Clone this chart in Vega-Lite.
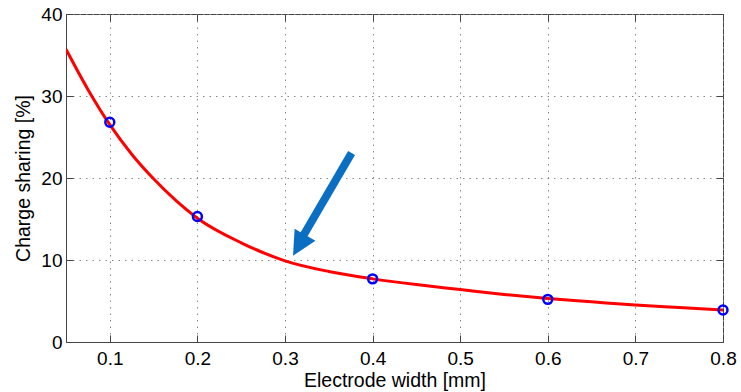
{
  "$schema": "https://vega.github.io/schema/vega-lite/v6.json",
  "autosize": {"type": "none"},
  "width": 657,
  "height": 328,
  "padding": {"left": 66, "top": 14, "right": 18, "bottom": 50},
  "background": "white",
  "config": {
    "font": "Liberation Sans",
    "view": {"stroke": "#444444", "strokeWidth": 1},
    "axis": {
      "labelFont": "Liberation Sans",
      "titleFont": "Liberation Sans",
      "labelFontSize": 19,
      "titleFontSize": 19.5,
      "labelColor": "#000000",
      "titleColor": "#000000",
      "titleFontWeight": "normal",
      "labelFlush": false,
      "labelOverlap": false,
      "domainColor": "#444444",
      "tickColor": "#444444",
      "gridColor": "#888888",
      "gridDash": [1.5, 5],
      "gridWidth": 1
    }
  },
  "datasets": {
    "curve": [
      {"w": 0.05, "cs": 35.7},
      {"w": 0.075, "cs": 30.8},
      {"w": 0.1, "cs": 26.5},
      {"w": 0.125, "cs": 22.9},
      {"w": 0.15, "cs": 19.9},
      {"w": 0.175, "cs": 17.3},
      {"w": 0.2, "cs": 15.1},
      {"w": 0.25, "cs": 12.1},
      {"w": 0.3, "cs": 9.9},
      {"w": 0.35, "cs": 8.6},
      {"w": 0.4, "cs": 7.7},
      {"w": 0.45, "cs": 7.0},
      {"w": 0.5, "cs": 6.4},
      {"w": 0.55, "cs": 5.8},
      {"w": 0.6, "cs": 5.3},
      {"w": 0.65, "cs": 4.9},
      {"w": 0.7, "cs": 4.5},
      {"w": 0.75, "cs": 4.2},
      {"w": 0.8, "cs": 3.9}
    ],
    "points": [
      {"w": 0.1, "cs": 26.8},
      {"w": 0.2, "cs": 15.3},
      {"w": 0.4, "cs": 7.7},
      {"w": 0.6, "cs": 5.2},
      {"w": 0.8, "cs": 3.9}
    ],
    "shaft": [{"x1": 0.376, "y1": 23.05, "x2": 0.32, "y2": 12.8}],
    "head": [{"w": 0.316, "cs": 11.8}]
  },
  "layer": [
    {
      "data": {"name": "curve"},
      "mark": {"type": "line", "color": "#ff0000", "strokeWidth": 3, "interpolate": "monotone", "clip": true},
      "encoding": {
        "x": {
          "field": "w", "type": "quantitative",
          "scale": {"domain": [0.05, 0.8], "nice": false, "zero": false},
          "axis": {
            "orient": "bottom",
            "title": "Electrode width [mm]",
            "values": [0.1, 0.2, 0.3, 0.4, 0.5, 0.6, 0.7, 0.8],
            "format": ".1f",
            "tickSize": -7,
            "labelPadding": 14,
            "titleY": 44.5,
            "titleBaseline": "alphabetic",
            "grid": true
          }
        },
        "y": {
          "field": "cs", "type": "quantitative",
          "scale": {"domain": [0, 40], "nice": false},
          "axis": {
            "orient": "left",
            "title": "Charge sharing [%]",
            "values": [0, 10, 20, 30, 40],
            "tickSize": -7,
            "labelPadding": 11,
            "titleX": -37,
            "titleBaseline": "alphabetic",
            "grid": true
          }
        }
      }
    },
    {
      "data": {"name": "points"},
      "mark": {"type": "point", "shape": "circle", "filled": false, "color": "#0000ff", "strokeWidth": 2.5, "size": 80, "opacity": 1},
      "encoding": {
        "x": {
          "field": "w", "type": "quantitative",
          "axis": {"orient": "top", "labels": false, "title": null, "grid": false, "domain": false,
                   "values": [0.1, 0.2, 0.3, 0.4, 0.5, 0.6, 0.7, 0.8], "tickSize": -7}
        },
        "y": {
          "field": "cs", "type": "quantitative",
          "axis": {"orient": "right", "labels": false, "title": null, "grid": false, "domain": false,
                   "values": [0, 10, 20, 30, 40], "tickSize": -7}
        }
      }
    },
    {
      "data": {"name": "shaft"},
      "mark": {"type": "rule", "color": "#0a6fc2", "strokeWidth": 8, "strokeCap": "butt"},
      "encoding": {
        "x": {"field": "x1", "type": "quantitative", "axis": null},
        "y": {"field": "y1", "type": "quantitative", "axis": null},
        "x2": {"field": "x2"},
        "y2": {"field": "y2"}
      }
    },
    {
      "data": {"name": "head"},
      "mark": {"type": "point", "shape": "M0,-1L1,1L-1,1Z", "filled": true, "color": "#0a6fc2", "opacity": 1, "size": 576, "angle": 210, "strokeWidth": 0},
      "encoding": {
        "x": {"field": "w", "type": "quantitative", "axis": null},
        "y": {"field": "cs", "type": "quantitative", "axis": null}
      }
    }
  ],
  "resolve": {"axis": {"x": "independent", "y": "independent"}}
}
